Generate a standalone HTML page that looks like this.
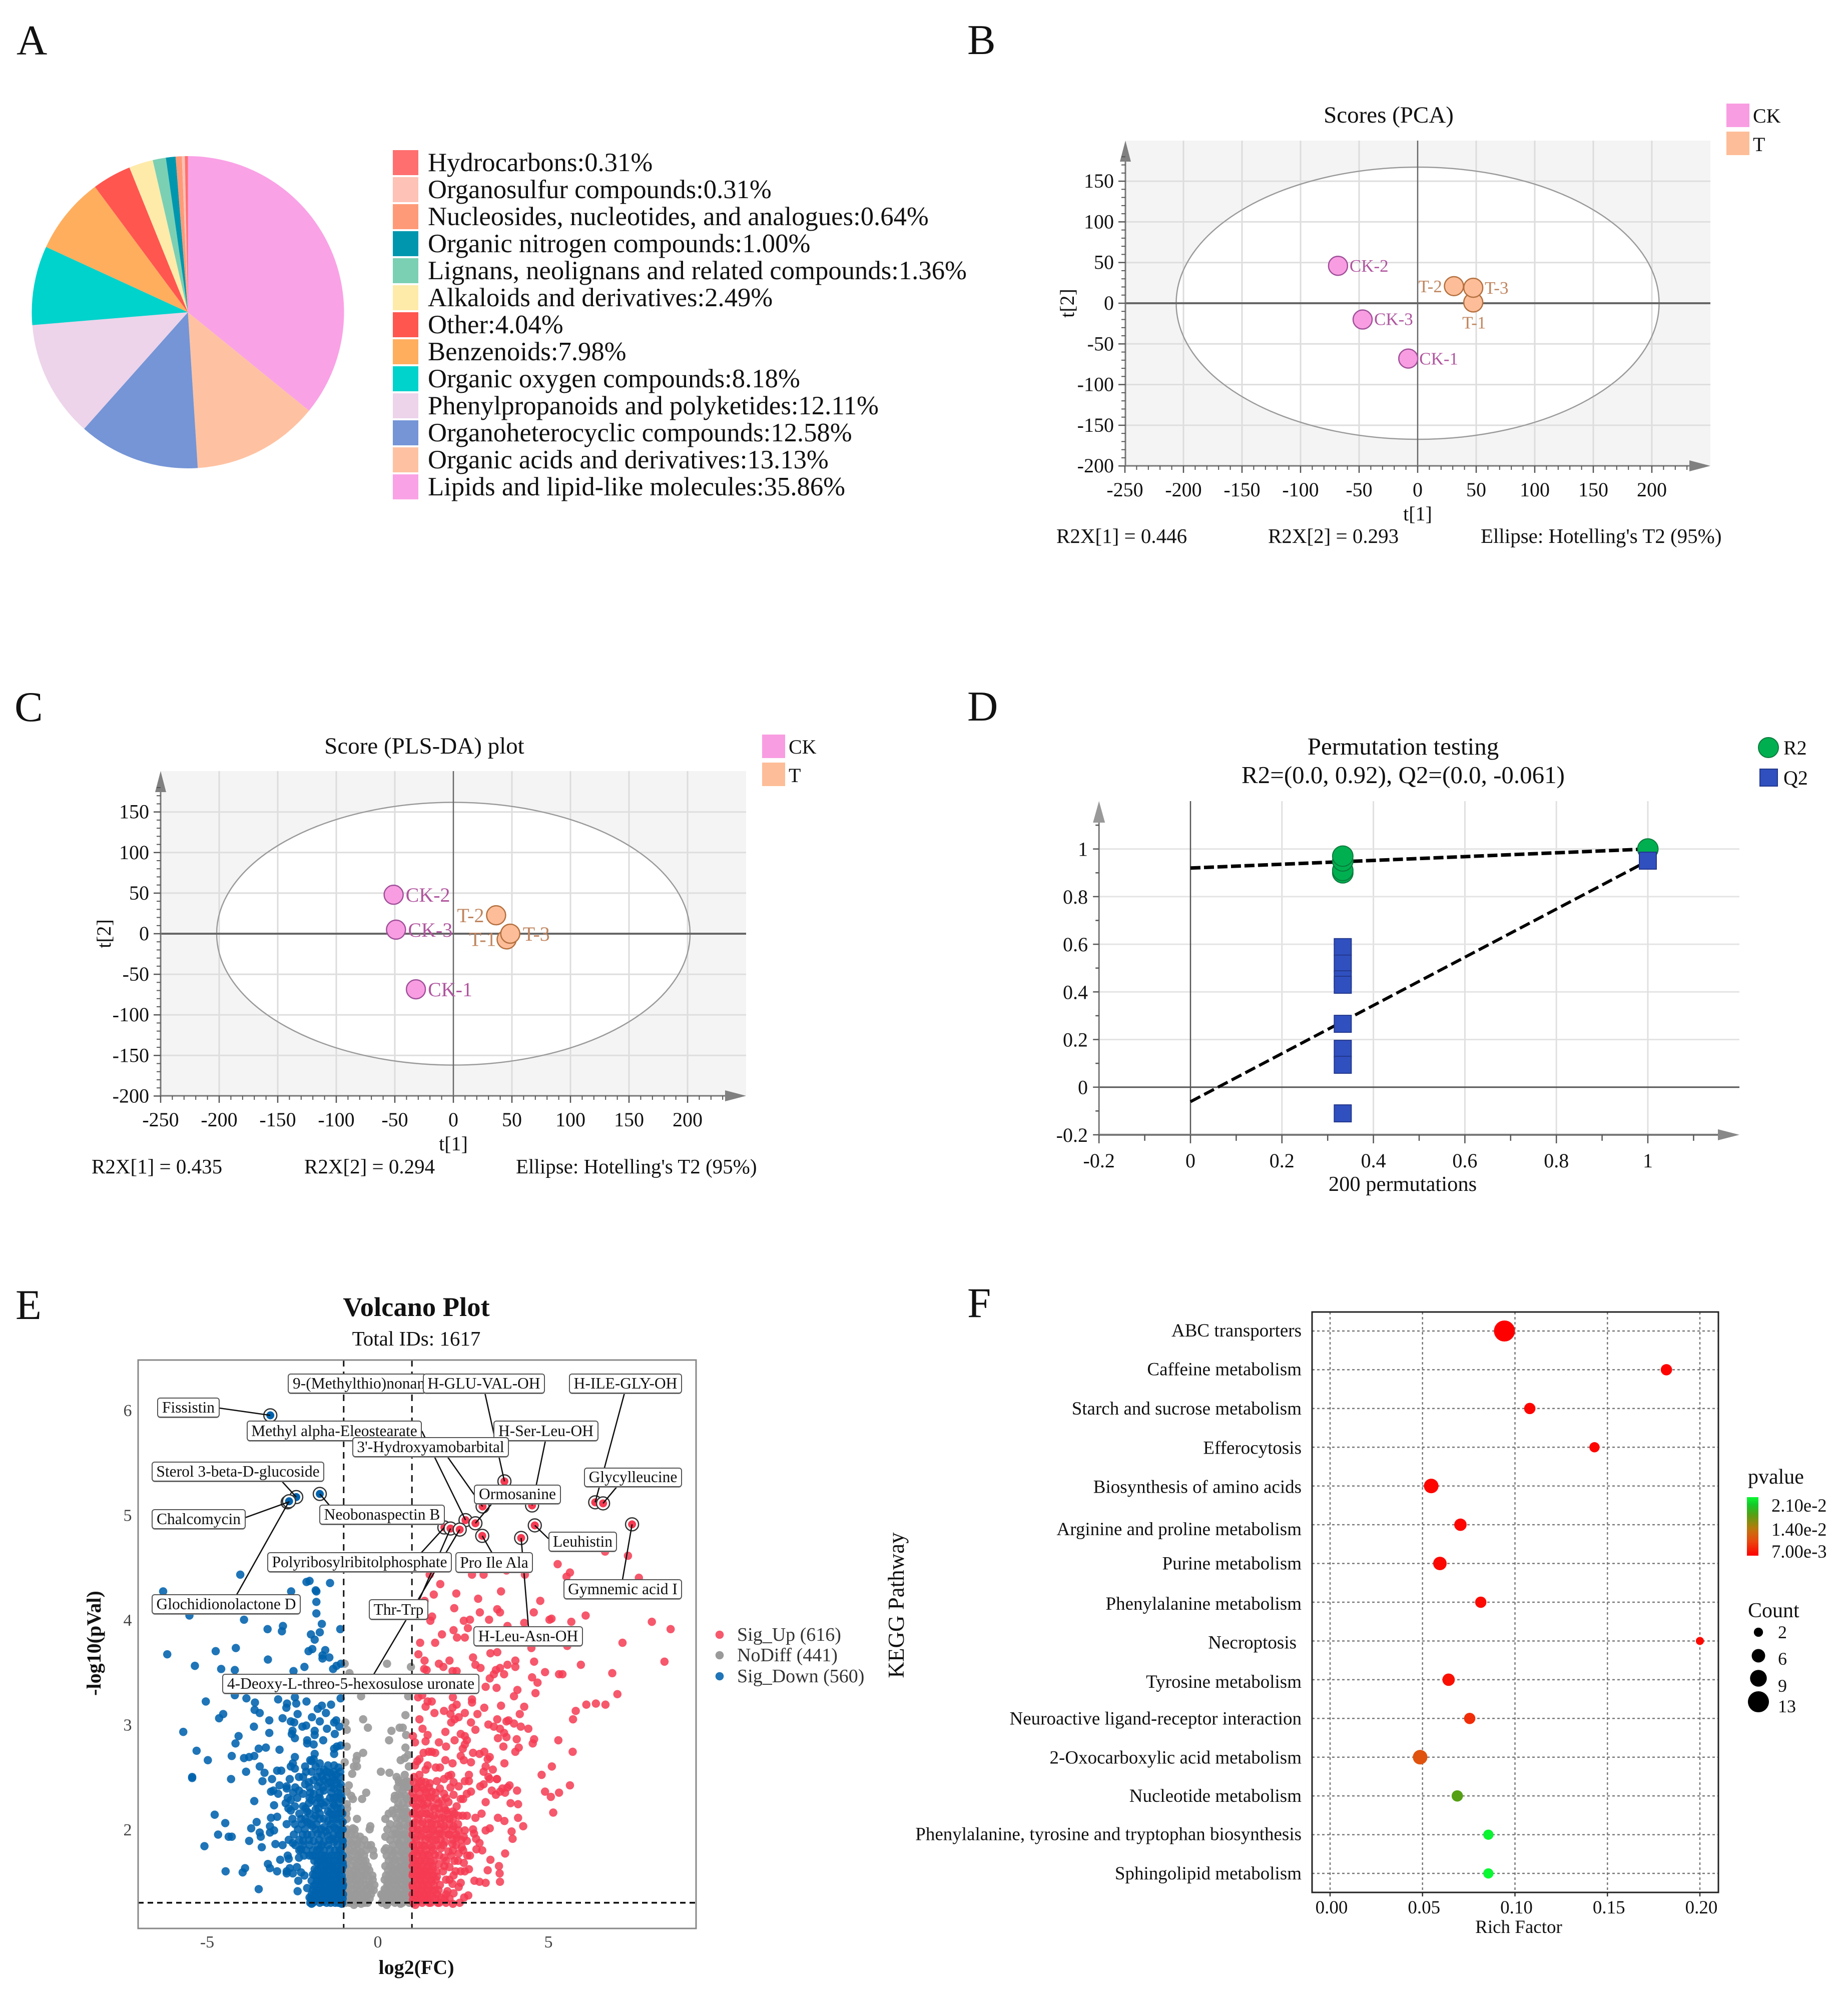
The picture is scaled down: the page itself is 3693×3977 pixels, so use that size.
<!DOCTYPE html>
<html lang="en">
<head>
<meta charset="utf-8">
<title>Metabolomics multi-panel figure</title>
<style>
html,body{margin:0;padding:0;background:#fff;}
svg{display:block;font-family:"Liberation Serif","Noto Serif CJK SC",serif;}
text{fill:#111;}
</style>
</head>
<body>
<svg id="fig" xmlns="http://www.w3.org/2000/svg" width="3693" height="3977" viewBox="0 0 3693 3977">
<rect width="3693" height="3977" fill="#fff"/>
<text x="33" y="109" font-size="85">A</text>
<text x="1933" y="108" font-size="85">B</text>
<text x="29" y="1441" font-size="85">C</text>
<text x="1933" y="1440" font-size="85">D</text>
<text x="31" y="2636" font-size="85">E</text>
<text x="1933" y="2632" font-size="85">F</text>
<g id="panelA"></g>
<g id="panelB"></g>
<g id="panelC"></g>
<g id="panelD"></g>
<g id="panelE"></g>
<g id="panelF"></g>
</svg>
<script>
/* ---------- Panel A data ---------- */
const pieCategories = ["Hydrocarbons","Organosulfur compounds","Nucleosides, nucleotides, and analogues","Organic nitrogen compounds","Lignans, neolignans and related compounds","Alkaloids and derivatives","Other","Benzenoids","Organic oxygen compounds","Phenylpropanoids and polyketides","Organoheterocyclic compounds","Organic acids and derivatives","Lipids and lipid-like molecules"];
const pieValues = [0.31,0.31,0.64,1.00,1.36,2.49,4.04,7.98,8.18,12.11,12.58,13.13,35.86];
const pieColors = ["#ff6f6f","#fec2b6","#ff9a78","#0097ae","#7bd0b4","#feebaa","#ff5650","#ffae5e","#00d2cc","#edd4ea","#7595d6","#fec2a2","#faa2e6"];

/* ---------- Panels B / C data ---------- */
const scoreXTicks = [-250,-200,-150,-100,-50,0,50,100,150,200];
const scoreYTicks = [150,100,50,0,-50,-100,-150,-200];
const pcaSamples = ["CK-1","CK-2","CK-3","T-1","T-2","T-3"];
const pcaT1 = [-8,-68,-47,47.5,31,47.5];
const pcaT2 = [-68,46,-20,1,21,19];
const plsSamples = ["CK-1","CK-2","CK-3","T-1","T-2","T-3"];
const plsT1 = [-32,-51,-49,45.5,36.5,48.6];
const plsT2 = [-68.5,48,5,-7,22.7,0];

/* ---------- Panel D data ---------- */
const permTicks = [-0.2,0,0.2,0.4,0.6,0.8,1];
const permR2X = [0.333,0.333,0.333,0.333,1];
const permR2Y = [0.90,0.91,0.95,0.97,1.0];
const permQ2X = [0.333,0.333,0.333,0.333,0.333,0.333,0.333,0.333,1];
const permQ2Y = [0.588,0.519,0.453,0.43,0.266,0.161,0.094,-0.11,0.951];
const r2FitLine = [0.92,1.0];
const q2FitLine = [-0.061,0.95];

/* ---------- Panel E data: [log2FC, -log10 p] ---------- */
const volcanoXTicks = [-5,0,5];
const volcanoYTicks = [2,3,4,5,6];
const sigDown = [[-4.03,4.43],[-2,4.37],[-2.09,4.36],[-1.4,4.35],[-6.29,4.27],[-2.54,4.27],[-1.8,4.27],[-1.82,4.28],[-1.8,4.17],[-1.8,4.06],[-5.52,4.04],[-3.92,4],[-1.64,3.96],[-2.78,3.94],[-3.23,3.91],[-2.81,3.89],[-1.1,3.91],[-1.7,3.88],[-1.96,3.86],[-1.85,3.81],
[-4.16,3.73],[-4.75,3.7],[-6.17,3.67],[-1.92,3.72],[-2.03,3.7],[-1.54,3.71],[-1.62,3.66],[-1.62,3.63],[-1.42,3.64],[-3.22,3.62],[-5.36,3.56],[-4.59,3.53],[-4.19,3.52],[-2.15,3.55],[-2.47,3.51],[-1.08,3.58],[-1.21,3.56],[-1.31,3.53],
[-4.19,3.28],[-5.04,3.22],[-3.85,3.25],[-3.6,3.21],[-2.92,3.24],[-2.43,3.26],[-2.09,3.22],[-2.39,3.2],[-2.66,3.2],[-2.68,3.16],[-1.09,3.25],[-1.37,3.19],[-1.64,3.18],[-1.76,3.15],[-1.52,3.11],[-3.61,3.14],[-4.53,3.1],[-4.65,3.06],[-3.46,3.11],[-2.35,3.1],[-1.93,3.07],[-2.79,3.06],[-3.18,3.04],[-2.55,3.03],[-2.45,3.02],[-1.7,3.03],[-1.22,3.04],[-1.28,3.02],[-1.13,2.98],[-3.63,2.98],[-2.21,2.98],[-2.1,2.99],[-5.7,2.93],[-3.18,2.92],[-2.5,2.94],[-2.52,2.91],[-1.49,2.96],[-1.85,2.94],[-1.26,2.91],[-4.08,2.89],[-2.43,2.87],[-1.85,2.9],[-1.6,2.85],[-2.07,2.85],[-4.17,2.82],[-2.07,2.82],[-1.88,2.81],[-1.09,2.8],[-1.28,2.77],[-1.2,2.79],[-3.28,2.78],[-3.49,2.77],[-2.88,2.76],[-5.31,2.75],[-1.85,2.72],[-1.28,2.72],[-4.28,2.7],[-3.92,2.68],[-3.77,2.69],[-3.62,2.7],[-4.98,2.66],[-2.43,2.69],[-1.88,2.67],[-1.98,2.66],
[-2.49,2.63],[-2.55,2.6],[-2.43,2.58],[-2.13,2.6],[-3.46,2.6],[-3.86,2.55],[-3.32,2.54],[-2.95,2.56],[-2.83,2.56],[-5.44,2.5],[-5.44,2.49],[-4.3,2.48],[-3.1,2.48],[-3.38,2.46],[-2.58,2.48],[-2.31,2.5],[-2.19,2.5],[-1.94,2.55],[-1.58,2.57],[-1.28,2.61],[-1.15,2.59],[-1.46,2.61],[-1.7,2.63],[-1.94,2.65],[-1.82,2.6],[-1.4,2.54],[-1.22,2.52],[-1.64,2.51],[-1.88,2.47],[-1.58,2.47],[-1.28,2.47],[-1.09,2.43],[-2.13,2.43],[-1.76,2.41],[-2.67,2.41],[-2.88,2.42],[-3.13,2.36],[-3.06,2.37],[-2.92,2.34],[-2.67,2.39],[-2.31,2.37],[-2.19,2.34],[-2.64,2.3],[-2.55,2.28],[-3.62,2.27],[-3.04,2.23],
[-1.88,2.34],[-1.58,2.37],[-1.28,2.39],[-1.09,2.34],[-1.7,2.3],[-1.4,2.3],[-1.09,2.29],[-1.94,2.28],[-1.58,2.23],[-1.28,2.23],[-1.09,2.2],[-2.19,2.22],[-2.43,2.22],[-2.55,2.18],[-1.82,2.19],[-1.46,2.17],[-1.15,2.15],[-2.07,2.17],[-2.95,2.12],[-3.13,2.11],[-4.78,2.14],[-3.55,2.07],[-4.47,2.06],[-2.67,2.05],[-2.43,2.05],[-2.25,2.1],[-2.07,2.07],[-1.7,2.1],[-1.46,2.08],[-1.22,2.1],[-1.03,2.07],[-1.92,2.03],[-1.58,2.02],[-1.28,2.02],[-1.09,1.99],
[-3.16,2.03],[-3.04,1.99],[-3.71,2.01],[-3.46,1.97],[-4.68,1.95],[-4.37,1.93],[-4.28,1.93],[-3.77,1.89],[-3.43,1.93],[-3.16,1.97],[-2.61,1.9],[-2.49,1.87],[-3,1.86],[-3.4,1.83],[-5.08,1.84],[-2.79,1.85],[-2.25,1.81],[-2.07,1.95],[-1.76,1.96],[-1.46,1.94],[-1.15,1.95],[-2.19,1.89],[-1.88,1.89],[-1.58,1.88],[-1.28,1.88],[-1.03,1.89],[-1.7,1.81],[-1.4,1.81],[-1.09,1.8],[-2.64,1.75],[-2.61,1.72],[-2.86,1.71],[-2.31,1.73],[-2,1.75],[-3.22,1.67],[-3.16,1.63],[-2.95,1.6],[-3.89,1.63],[-3.96,1.59],[-4.46,1.6],[-2.67,1.6],[-2.58,1.63],[-2.37,1.64],[-2.67,1.58],[-2.49,1.58],[-2.25,1.59],[-2.15,1.56],[-2.33,1.51],[-3.49,1.43],[-2.35,1.41],[-2.07,1.44],[-2,1.35],[-1.94,1.29],
[-1.82,1.74],[-1.64,1.75],[-1.46,1.74],[-1.28,1.75],[-1.09,1.73],[-1.76,1.68],[-1.55,1.69],[-1.37,1.68],[-1.18,1.69],[-1.03,1.68],[-1.85,1.62],[-1.67,1.63],[-1.49,1.62],[-1.31,1.63],[-1.12,1.62],[-1.9,1.57],[-1.73,1.56],[-1.58,1.57],[-1.4,1.56],[-1.22,1.57],[-1.06,1.56],[-1.94,1.51],[-1.79,1.51],[-1.64,1.5],[-1.46,1.51],[-1.28,1.5],[-1.09,1.51],[-1.88,1.46],[-1.7,1.45],[-1.55,1.46],[-1.37,1.45],[-1.18,1.46],[-1.03,1.45],[-1.82,1.4],[-1.64,1.41],[-1.46,1.4],[-1.28,1.41],[-1.09,1.4],[-1.94,1.38],[-1.73,1.36],[-1.55,1.35],[-1.37,1.36],[-1.18,1.35],[-1.03,1.34],[-1.85,1.32],[-1.6,1.31],[-1.25,1.3],[-1.06,1.29],[-1.46,1.43],[-1.32,1.47],[-1.52,1.53],[-1.16,1.6],[-1.43,1.65],[-1.61,1.71],[-1.76,1.85],[-1.34,1.91],[-1.52,1.98],[-1.82,2.13],[-1.34,2.14],[-1.52,2.26],[-1.22,2.31],[-1.46,2.44]];
const sigUp = [[1.52,4.43],[2.76,4.43],[3.1,4.43],[3.77,4.47],[4.31,4.43],[5.27,4.53],[5.63,4.45],[5.53,4.41],[6.66,4.65],[7.33,4.61],[7.65,4.4],[1.83,4.34],[2.3,4.25],[1.64,4.24],[3.61,4.27],[2.94,4.2],[4.76,4.18],[1.37,4.18],[2.24,4.11],[2.99,4.07],[3.5,4.1],[3.58,4.07],[4.57,4.07],[6.09,4.04],[1.59,4.03],[1.54,3.99],[2.52,3.99],[2.7,4],[3.26,4],[4.29,3.97],[5.09,4.01],[5.03,4],[5.67,3.98],[8.03,3.98],[2.64,3.92],[2.22,3.9],[3.8,3.94],[8.58,3.91],[1.88,3.86],[2.32,3.83],[2.55,3.83],
[1.24,3.78],[1.68,3.78],[7.17,3.78],[4.5,3.73],[5.55,3.75],[3.3,3.68],[3.5,3.69],[1.19,3.67],[2.79,3.64],[2.86,3.57],[1.37,3.61],[1.79,3.58],[2.1,3.61],[1.92,3.55],[3.01,3.54],[3.8,3.57],[4.03,3.61],[4.03,3.55],[4.58,3.6],[5.95,3.57],[8.4,3.6],[1.36,3.53],[1.43,3.52],[2.19,3.51],[2.31,3.51],[3.58,3.54],[3.46,3.52],[4.9,3.5],[5.31,3.48],[5.41,3.48],[6.87,3.49],[3.7,3.48],[3.4,3.48],[3.28,3.44],[4.52,3.45],[4.68,3.4],[3.16,3.36],[3.48,3.35],[4.09,3.33],[4.62,3.3],[7.02,3.29],[3.99,3.27],[2.2,3.26],[2.76,3.24],[1.18,3.26],[1.3,3.28],[1.46,3.22],[1.58,3.22],[1.4,3.17],[2.31,3.19],[2.76,3.21],[3.61,3.18],[4.29,3.17],[6.11,3.19],[6.39,3.2],[6.67,3.19],[5.8,3.13],[3.12,3.16],[2.19,3.16],[1.66,3.11],[1.94,3.13],[2.55,3.11],[2.13,3.1],[2.92,3.1],[4.16,3.1],[1.22,3.05],[2.37,3.07],[2.25,3.05],[2.15,3.02],[3.5,3.05],[3.83,3.04],[3.77,3.03],[2.73,3.02],[3.99,3.01],[3.24,3],[3.4,2.98],[3.58,2.96],[4.19,2.98],[4.41,2.96],[5.72,3.05],[1.31,2.96],[2.86,2.95],[1.98,2.93],[3.7,2.92],[3.52,2.87],[3.77,2.88],[4.07,2.86],[4.58,2.86],[4.54,2.82],[5.29,2.85],[5.71,2.74],[1.46,2.9],[1.03,2.89],[1.09,2.83],[1.4,2.84],[1.79,2.83],[2.43,2.91],[2.55,2.89],[2.25,2.85],[2.61,2.85],[2,2.79],[2.55,2.81],[2.49,2.77],[3.68,2.79],[4.13,2.78],[4.03,2.74],[2.79,2.73],[3.12,2.74],[2.98,2.72],[1.34,2.73],[1.49,2.74],[1.68,2.73],[1.58,2.74],[2.43,2.7],[3.28,2.69],[3.22,2.67],[1.22,2.67],[1.16,2.65],[1.98,2.66],[2.19,2.63],[2.52,2.66],[2.73,2.64],[3.71,2.63],[3.16,2.6],[5.1,2.6],[1.46,2.61],[1.7,2.59],[1.82,2.59],[1.09,2.61],[1.4,2.57],[3.37,2.57],[4.8,2.52],[3.1,2.55],[1.22,2.52],[2.07,2.51],[2.15,2.52],[2.67,2.52],[3.24,2.5],[3.49,2.48],[5.63,2.42],[4.9,2.36],[5.31,2.35],[5.07,2.31],[5.14,2.16],
[3.3,1.71],[3.55,1.65],[3.22,1.61],[3.57,1.58],[3.58,1.5],[3.16,1.49],[2.83,1.51],[2.98,1.5],[2.65,1.37],[2.53,1.35],[2.43,1.49],[2.37,1.45],[3.73,1.77],[3.92,1.98],[3.95,1.91],[4.26,2.03],[4.11,2.11],[3.52,2.11],[3.71,2.08],[3.28,2.01],[3.16,1.99],[3.04,2.15],[2.86,2.11],[2.61,2.13],[2.37,2.13],[2.49,2.13],[2.79,2],[2.82,1.96],[2.88,1.91],[2.98,1.87],[3.06,1.8],[2.89,1.81],[2.61,1.89],[2.52,1.93],[2.37,1.99],[2.55,1.99],[4.11,2.24],[3.89,2.25],[3.16,2.26],[2.73,2.36],[2.43,2.29],[2.5,2.29],[4.08,2.37],[3.86,2.42],[3.8,2.4],[3.65,2.39],[3.58,2.36],[3.34,2.37],[3.46,2.33],[3.73,2.35],[3,2.41],[3.1,2.43],[3.49,2.48],[3.28,2.48],[2.67,2.46],[2.55,2.46],[2.37,2.41],[2.13,2.4],[1.82,2.39],
[1.06,2.5],[1.28,2.46],[1.52,2.44],[1.73,2.46],[1.94,2.48],[2.22,2.45],[1.12,2.39],[1.37,2.38],[1.58,2.36],[1.94,2.34],[2.22,2.33],[2.61,2.34],[1.06,2.3],[1.25,2.29],[1.49,2.31],[1.7,2.29],[1.88,2.27],[2.07,2.26],[2.31,2.22],[1.12,2.22],[1.34,2.23],[1.58,2.22],[1.79,2.2],[2,2.18],[2.19,2.17],[1.03,2.15],[1.22,2.14],[1.43,2.15],[1.64,2.13],[1.88,2.11],[2.1,2.1],[1.09,2.07],[1.31,2.07],[1.52,2.06],[1.73,2.05],[1.94,2.03],[2.22,2.03],[1.03,2],[1.19,1.99],[1.4,2],[1.61,1.98],[1.82,1.96],[2.07,1.95],[2.31,1.92],[1.09,1.92],[1.28,1.93],[1.49,1.92],[1.7,1.9],[1.97,1.88],[2.19,1.86],[2.46,1.83],[1.03,1.85],[1.22,1.85],[1.37,1.84],[1.58,1.83],[1.85,1.82],[2.07,1.79],[2.37,1.77],[2.7,1.75],[1.09,1.78],[1.28,1.77],[1.46,1.76],[1.67,1.76],[1.94,1.73],[2.25,1.7],[2.52,1.68],[1.03,1.71],[1.19,1.7],[1.37,1.7],[1.55,1.69],[1.79,1.67],[2.1,1.64],[2.43,1.6],[2.67,1.62],[1.09,1.64],[1.25,1.63],[1.43,1.63],[1.61,1.62],[1.91,1.6],[2.22,1.56],[1.03,1.58],[1.19,1.57],[1.34,1.57],[1.52,1.56],[1.73,1.55],[2,1.52],[2.19,1.48],[1.09,1.51],[1.25,1.51],[1.4,1.5],[1.58,1.5],[1.82,1.47],[1.03,1.45],[1.19,1.44],[1.34,1.45],[1.49,1.44],[1.67,1.42],[2.04,1.41],[2.22,1.39],[1.09,1.38],[1.25,1.38],[1.43,1.37],[1.61,1.36],[1.85,1.35],[1.03,1.33],[1.19,1.32],[1.37,1.32],[1.55,1.3],[2,1.3],[2.2,1.29],[1.1,1.28],[1.76,1.3]];
const noDiff = [[-0.97,3.58],[0.27,3.58],[0.97,3.55],[-0.83,3.49],[-0.49,3.27],[0.89,3.27],[0.81,3.09],[-0.43,3.05],[-0.95,3.02],[-0.29,2.97],[-0.91,2.95],[0.64,2.97],[0.73,2.97],[0.4,2.94],[0.83,2.9],[0.33,2.85],[-0.91,2.79],[0.81,2.78],[-0.43,2.73],[-0.61,2.7],[0.89,2.71],[0.79,2.68],[0.67,2.66],[-0.97,2.64],[-0.63,2.66],[-0.61,2.6],[-0.7,2.6],[0.91,2.6],[0.09,2.55],[0.34,2.54],[-0.75,2.53],[0.79,2.52],[0.55,2.5],[0.61,2.47],[0.73,2.44],[-0.85,2.42],[0.85,2.46],[-0.91,2.36],[-0.34,2.35],[0.73,2.37],[-0.73,2.29],[-0.46,2.29],[0.61,2.33],[0.49,2.29],[0.85,2.29],[0.43,2.18],[0.67,2.18],[-0.91,2.24],[0.85,2.17],[0.22,2.1],[-0.61,2.1],[0.55,2.11],[0.79,2.11],[-0.91,2.1],[-0.22,2.03],[-0.24,2],[-0.73,2.01],[0.64,2.03],[0.88,2.03],[-0.91,1.97],[-0.67,1.95],[-0.52,1.93],[0.22,1.93],[0.52,1.96],[0.73,1.95],[0.91,1.93],[-0.79,1.87],[-0.61,1.86],[-0.3,1.85],[0.24,1.82],[0.61,1.87],[0.82,1.85],[-0.93,1.8],[-0.7,1.79],[-0.49,1.78],[0.46,1.78],[0.7,1.78],[0.91,1.79],[-0.85,1.72],[-0.61,1.72],[-0.43,1.7],[0.52,1.71],[0.76,1.71],[0.94,1.72],[-0.94,1.65],[-0.73,1.65],[-0.52,1.64],[-0.34,1.62],[0.43,1.63],[0.64,1.64],[0.85,1.65],[-0.82,1.58],[-0.61,1.58],[-0.4,1.56],[0.34,1.57],[0.55,1.58],[0.76,1.58],[0.94,1.58],[-0.94,1.52],[-0.73,1.52],[-0.52,1.51],[-0.25,1.5],[0.28,1.5],[0.46,1.51],[0.67,1.52],[0.88,1.52],[-0.85,1.45],[-0.64,1.45],[-0.43,1.44],[-0.2,1.43],[0.2,1.43],[0.37,1.44],[0.58,1.45],[0.79,1.45],[0.97,1.46],[-0.94,1.39],[-0.73,1.38],[-0.52,1.38],[-0.31,1.37],[0.13,1.37],[0.28,1.38],[0.49,1.38],[0.7,1.38],[0.91,1.39],[-0.85,1.33],[-0.64,1.32],[-0.43,1.32],[0.16,1.32],[0.37,1.32],[0.58,1.32],[0.79,1.32],[0.97,1.33],[-0.7,1.28],[-0.49,1.29],[0.26,1.28],[0.67,1.29]];
/* additional densely packed points, by -log10 p row: [p, [log2FC, ...]] */
const sigDownRows = [[1.3,[-1.98,-1.9,-1.7,-1.5,-1.38,-1.16,-1.04]],[1.34,[-1.95,-1.78,-1.62,-1.44,-1.3,-1.1]],[1.38,[-1.72,-1.58,-1.42,-1.25,-1.12,-1.02]],[1.42,[-1.9,-1.76,-1.6,-1.5,-1.34,-1.2,-1.07]],[1.47,[-1.84,-1.66,-1.52,-1.4,-1.26,-1.12,-1.02]],[1.52,[-1.72,-1.56,-1.36,-1.2,-1.04]],[1.56,[-1.84,-1.64,-1.48,-1.32,-1.14]],[1.61,[-1.78,-1.58,-1.42,-1.26,-1.06]],[1.65,[-1.68,-1.52,-1.34,-1.2,-1.02]],[1.7,[-1.86,-1.7,-1.46,-1.28,-1.1]],[1.75,[-2.16,-1.92,-1.72,-1.54,-1.36,-1.16,-1.03]],[1.8,[-2.3,-2.1,-1.9,-1.78,-1.58,-1.26,-1.12]],[1.85,[-2.42,-2.2,-2,-1.64,-1.46,-1.18,-1.03]],[1.9,[-2.3,-2.02,-1.72,-1.42,-1.24,-1.06]],[1.95,[-2.46,-2.2,-1.94,-1.64,-1.3,-1.12]],[2,[-2.34,-2.14,-1.82,-1.66,-1.42,-1.2,-1.03]],[2.05,[-2.22,-1.98,-1.8,-1.38,-1.16]],[2.1,[-2.5,-2.12,-1.88,-1.58,-1.32,-1.1]],[2.15,[-2.3,-2,-1.7,-1.4,-1.22,-1.04]],[2.2,[-2.62,-2.12,-1.74,-1.36,-1.18]],[2.25,[-2.7,-2.02,-1.8,-1.66,-1.3,-1.14]],[2.3,[-2.36,-2,-1.74,-1.3,-1.06]],[2.35,[-2.48,-1.98,-1.7,-1.36,-1.16]],[2.4,[-2.42,-2,-1.6,-1.36,-1.12]],[2.45,[-2.02,-1.7,-1.4,-1.2]],[2.5,[-1.78,-1.5,-1.32,-1.1]],[2.55,[-2.1,-1.7,-1.5,-1.3,-1.1]]];
const noDiffRows = [[1.3,[-0.94,-0.82,-0.6,-0.38,-0.3,0.12,0.3,0.5,0.72,0.92]],[1.34,[-0.96,-0.75,-0.55,-0.35,-0.24,0.16,0.26,0.46,0.68,0.86]],[1.38,[-0.84,-0.62,-0.42,-0.2,0.1,0.22,0.42,0.62,0.82,0.96]],[1.42,[-0.94,-0.74,-0.55,-0.33,-0.12,0.24,0.44,0.64,0.84]],[1.47,[-0.96,-0.8,-0.6,-0.36,-0.24,-0.1,0.28,0.5,0.72,0.92]],[1.52,[-0.84,-0.64,-0.43,-0.15,0.2,0.38,0.56,0.76,0.95]],[1.56,[-0.93,-0.72,-0.5,-0.3,-0.16,0.24,0.42,0.62,0.82,0.9]],[1.61,[-0.86,-0.68,-0.46,-0.25,0.3,0.5,0.7,0.88]],[1.65,[-0.95,-0.62,-0.4,-0.3,0.22,0.36,0.58,0.78,0.95]],[1.7,[-0.9,-0.72,-0.52,-0.36,0.32,0.44,0.66,0.86]],[1.75,[-0.95,-0.78,-0.55,-0.4,-0.12,0.26,0.4,0.6,0.8,0.93]],[1.8,[-0.82,-0.6,-0.35,-0.14,0.2,0.38,0.54,0.72,0.9]],[1.85,[-0.94,-0.72,-0.48,-0.2,0.44,0.64,0.84]],[1.9,[-0.85,-0.62,-0.4,0.36,0.56,0.7,0.88,0.96]],[1.95,[-0.95,-0.78,0.42,0.6,0.82]],[2,[-0.9,-0.68,0.28,0.48,0.68,0.9]],[2.05,[0.36,0.56,0.78,0.94]],[2.1,[0.66,0.86]],[2.15,[-0.93,0.32,0.46,0.72,0.92]],[2.2,[-0.9,0.56,0.78]],[2.25,[0.6,0.74,0.9]],[2.32,[-0.78,0.5,0.68,0.82,0.95]],[2.4,[0.58,0.76,0.88,0.94]],[2.45,[0.62,0.8,0.94]]];
const sigUpRows = [[1.3,[1.04,1.3,1.5,1.8,2.4]],[1.34,[1.12,1.28,1.46,1.7,1.95,2.1]],[1.38,[1.02,1.18,1.36,1.52,1.74,2]],[1.42,[1.1,1.28,1.44,1.58,1.78]],[1.47,[1.02,1.16,1.3,1.46,1.64]],[1.52,[1.1,1.24,1.38,1.56,1.7,2.1]],[1.56,[1.02,1.16,1.3,1.44,1.62]],[1.6,[1.08,1.22,1.38,1.52,1.72,2.28,2.55]],[1.65,[1.02,1.16,1.3,1.46,1.6,1.95]],[1.7,[1.1,1.24,1.42,1.64,2,2.35]],[1.75,[1.02,1.16,1.32,1.5,1.8,2.15,2.62]],[1.8,[1.1,1.22,1.42,1.62,2.2,2.5]],[1.85,[1.04,1.3,1.52,1.76,1.92,2.3]],[1.9,[1.12,1.4,1.6,1.84,2.2,2.45]],[1.95,[1.02,1.26,1.5,1.72,1.9,2.1,2.3]],[2,[1.16,1.42,1.62,1.8,2,2.2]],[2.05,[1.04,1.3,1.58,1.85,2.1,2.35]],[2.1,[1.18,1.48,1.7,1.95,2.2]],[2.15,[1.08,1.3,1.52,1.8,2.05,2.25]],[2.2,[1.16,1.38,1.66,1.95]],[2.25,[1.04,1.28,1.46,1.78]],[2.3,[1.12,1.34,1.56,2]],[2.35,[1.02,1.22,1.42,1.7]],[2.4,[1.16,1.3,1.5]],[2.45,[1.06,1.22,1.4]]];
/* labelled metabolites */
const hitNames = ["Fissistin","Sterol 3-beta-D-glucoside","Chalcomycin","Glochidionolactone D","Neobonaspectin B","H-GLU-VAL-OH","3'-Hydroxyamobarbital","H-Ser-Leu-OH","H-ILE-GLY-OH","Glycylleucine","Methyl alpha-Eleostearate","Ormosanine","Polyribosylribitolphosphate","Thr-Trp","4-Deoxy-L-threo-5-hexosulose uronate","Pro Ile Ala","H-Leu-Asn-OH","Leuhistin","Gymnemic acid I"];
const hitFC = [-3.15,-2.39,-2.64,-2.6,-1.7,3.71,3.07,4.52,6.37,6.6,2.57,2.86,1.95,2.13,2.4,3.06,4.2,4.6,7.45];
const hitP = [5.95,5.17,5.12,5.13,5.2,5.32,5.08,5.09,5.12,5.11,4.95,4.92,4.88,4.87,4.86,4.8,4.78,4.9,4.91];

/* ---------- Panel F data ---------- */
const pathways = ["ABC transporters","Caffeine metabolism","Starch and sucrose metabolism","Efferocytosis","Biosynthesis of amino acids","Arginine and proline metabolism","Purine metabolism","Phenylalanine metabolism","Necroptosis","Tyrosine metabolism","Neuroactive ligand-receptor interaction","2-Oxocarboxylic acid metabolism","Nucleotide metabolism","Phenylalanine, tyrosine and tryptophan biosynthesis","Sphingolipid metabolism"];
const richFactor = [0.0943,0.1819,0.108,0.143,0.0547,0.0705,0.0594,0.0815,0.2,0.0641,0.0755,0.0487,0.0688,0.0856,0.0856];
const geneCount = [13,4,4,3,7,5,6,4,1,5,4,7,4,3,3];
const pathwayP = [0.007,0.0071,0.0072,0.0072,0.0073,0.0073,0.0074,0.0075,0.0075,0.0078,0.0092,0.0112,0.0168,0.0208,0.021];
const richTicks = [0,0.05,0.1,0.15,0.2];
const countLegend = [2,6,9,13];
const pvalueLegend = ["2.10e-2","1.40e-2","7.00e-3"];

/* ---------- helpers ---------- */
const NS = "http://www.w3.org/2000/svg";
function mk(parent, tag, attrs, txt){
  const e = document.createElementNS(NS, tag);
  for (const k in attrs) e.setAttribute(k, attrs[k]);
  if (txt !== undefined) e.textContent = txt;
  parent.appendChild(e);
  return e;
}
function ln(p,x1,y1,x2,y2,stroke,w,extra){
  return mk(p,"line",Object.assign({x1,y1,x2,y2,stroke,"stroke-width":w},extra||{}));
}
function tx(p,x,y,size,s,extra){
  return mk(p,"text",Object.assign({x,y,"font-size":size},extra||{}),s);
}
function tag(e,name){
  
  
  return e;
}
function expandRows(rows){
  const out = [];
  rows.forEach(r => r[1].forEach(fc => out.push([fc, r[0]])));
  return out;
}

/* ---------- Panel A ---------- */
(function(){
  const g = document.getElementById("panelA");
  const cx = 375.5, cy = 624, r = 312;
  const total = pieValues.reduce((a,b)=>a+b,0);
  let acc = 0;
  for (let i = pieValues.length-1; i >= 0; i--){
    const a0 = acc/total*2*Math.PI;
    acc += pieValues[i];
    const a1 = acc/total*2*Math.PI;
    const large = (a1-a0) > Math.PI ? 1 : 0;
    const d = `M${cx},${cy}L${cx+r*Math.sin(a0)},${cy-r*Math.cos(a0)}A${r},${r} 0 ${large} 1 ${cx+r*Math.sin(a1)},${cy-r*Math.cos(a1)}Z`;
    const s = mk(g,"path",{d,fill:pieColors[i]});
    
    
  }
  pieCategories.forEach((c,i)=>{
    const y = 300 + i*54;
    const sw = mk(g,"rect",{x:785,y,width:51,height:50,fill:pieColors[i]});
    
    
    const t = tx(g,855,y+42,52.7,c+":"+pieValues[i].toFixed(2)+"%");
    
    
  });
})();

/* ---------- Panels B, C ---------- */
function scorePlot(g,c,samples,t1,t2){
  const X = v => c.x0 + 2.34*v, Y = v => c.y0 - c.sy*v;
  tag(mk(g,"rect",{x:c.l,y:c.t,width:c.r-c.l,height:c.b-c.t,fill:"#f4f4f4"}),"plot-background");
  tag(mk(g,"ellipse",{cx:c.x0,cy:c.y0,rx:c.rx,ry:c.ry,fill:"#fff"}),"ellipse-fill");
  scoreXTicks.forEach(v=>{
    if(v!==0 && v!==-250) tag(ln(g,X(v),c.t,X(v),c.b,"#dcdcdc",3),"x-gridline");
  });
  scoreYTicks.forEach(v=>{
    if(v!==0 && v!==-200) tag(ln(g,c.l,Y(v),c.r,Y(v),"#dedede",3),"y-gridline");
  });
  tag(mk(g,"ellipse",{cx:c.x0,cy:c.y0,rx:c.rx,ry:c.ry,fill:"none",stroke:"#9a9a9a","stroke-width":2.5}),"hotelling-ellipse");
  tag(ln(g,c.l,Y(0),c.r,Y(0),"#666",4),"zero-line-horizontal");
  tag(ln(g,X(0),c.t,X(0),c.b,"#666",2.5),"zero-line-vertical");
  // axes
  tag(ln(g,c.l,c.t+35,c.l,c.b,"#777",3),"y-axis");
  tag(ln(g,c.l,c.b,c.r-35,c.b,"#777",3),"x-axis");
  tag(mk(g,"path",{d:`M${c.l-11},${c.t+42}L${c.l},${c.t}L${c.l+11},${c.t+42}Z`,fill:"#808080"}),"y-axis-arrow");
  tag(mk(g,"path",{d:`M${c.r-42},${c.b-11}L${c.r},${c.b}L${c.r-42},${c.b+11}Z`,fill:"#808080"}),"x-axis-arrow");
  for(let v=-250;v<=230;v+=10){
    const major = v%50===0;
    tag(ln(g,X(v),c.b,X(v),c.b+(major?14:8),"#555",major?2.5:2),"x-tick");
  }
  for(let v=-200;v<=180;v+=10){
    const major = v%50===0;
    tag(ln(g,c.l,Y(v),c.l-(major?14:8),Y(v),"#555",major?2.5:2),"y-tick");
  }
  scoreXTicks.forEach(v=>{
    const t = tx(g,X(v),c.b+61,40,String(v),{"text-anchor":"middle"});
    
    
  });
  scoreYTicks.forEach(v=>{
    const t = tx(g,c.l-23,Y(v)+13,40,String(v),{"text-anchor":"end"});
    
    
  });
  tag(tx(g,X(0),c.b+109,40,"t[1]",{"text-anchor":"middle"}),"x-axis-title");
  tag(tx(g,0,0,40,"t[2]",{"text-anchor":"middle",transform:`translate(${c.yTitleX},${Y(0)}) rotate(-90)`}),"y-axis-title");
  samples.forEach((s,i)=>{
    const ck = s.startsWith("CK");
    const pt = mk(g,"circle",{cx:X(t1[i]),cy:Y(t2[i]),r:19,fill:ck?"#f99de2":"#fdbd98",stroke:ck?"#a0509a":"#b4703f","stroke-width":2.5});
    
    
    const o = c.labels[s];
    const lab = tx(g,X(t1[i])+o[0],Y(t2[i])+o[1],c.labelSize,s,{style:"fill:"+(ck?"#b0559f":"#c0855f")});
    
    
  });
  tag(tx(g,c.titleX,c.titleY,47,c.title,{"text-anchor":"middle"}),"chart-title");
  tag(mk(g,"rect",{x:c.legX,y:c.legY,width:46,height:47,fill:"#f99de2"}),"legend-swatch-ck");
  tag(mk(g,"rect",{x:c.legX,y:c.legY+56,width:46,height:47,fill:"#fdbd98"}),"legend-swatch-t");
  tag(tx(g,c.legX+53,c.legY+38,40,"CK"),"legend-label-ck");
  tag(tx(g,c.legX+53,c.legY+95,40,"T"),"legend-label-t");
  tag(tx(g,c.noteX[0],c.noteY,41,c.notes[0]),"r2x-1-note");
  tag(tx(g,c.noteX[1],c.noteY,41,c.notes[1]),"r2x-2-note");
  tag(tx(g,c.noteX[2],c.noteY,41,"Ellipse: Hotelling's T2 (95%)"),"ellipse-note");
}
scorePlot(document.getElementById("panelB"),{
  l:2249,r:3418,t:281,b:931,x0:2833,y0:606,sy:1.626,rx:482.5,ry:272,yTitleX:2146,labelSize:35,
  labels:{"CK-1":[22,12],"CK-2":[23,12],"CK-3":[23,11],"T-1":[-22,52],"T-2":[-71,12],"T-3":[23,12]},
  title:"Scores (PCA)",titleX:2775,titleY:245,legX:3450,legY:207,
  noteX:[2111,2534,2959],noteY:1085,notes:["R2X[1] = 0.446","R2X[2] = 0.293"]
},pcaSamples,pcaT1,pcaT2);
scorePlot(document.getElementById("panelC"),{
  l:321,r:1491,t:1541,b:2190,x0:906,y0:1866,sy:1.622,rx:473,ry:262.5,yTitleX:221,labelSize:40,
  labels:{"CK-1":[24,14],"CK-2":[24,14],"CK-3":[24,14],"T-1":[-75,13],"T-2":[-78,14],"T-3":[25,14]},
  title:"Score (PLS-DA) plot",titleX:848,titleY:1506,legX:1523,legY:1468,
  noteX:[183,608,1031],noteY:2345,notes:["R2X[1] = 0.435","R2X[2] = 0.294"]
},plsSamples,plsT1,plsT2);

/* ---------- Panel D ---------- */
(function(){
  const g = document.getElementById("panelD");
  const X = v => 2379 + 914*v, Y = v => 2172.7 - 476*v;
  const L = X(-0.2), B = Y(-0.2), R = 3476, T = 1601;
  permTicks.forEach(v=>{
    if(v>0){
      tag(ln(g,X(v),T,X(v),B,"#e0e0e0",3),"x-gridline");
      tag(ln(g,L,Y(v),R,Y(v),"#e4e4e4",3),"y-gridline");
    }
  });
  tag(ln(g,X(0),T,X(0),B,"#555",2.5),"zero-line-vertical");
  tag(ln(g,L,Y(0),R,Y(0),"#555",3),"zero-line-horizontal");
  tag(ln(g,L,T+43,L,B,"#777",3),"y-axis");
  tag(ln(g,L,B,R-40,B,"#777",4),"x-axis");
  tag(mk(g,"path",{d:`M${L-12},${T+43}L${L},${T}L${L+12},${T+43}Z`,fill:"#999"}),"y-axis-arrow");
  tag(mk(g,"path",{d:`M${R-43},${B-11}L${R},${B}L${R-43},${B+11}Z`,fill:"#888"}),"x-axis-arrow");
  for(let i=-2;i<=11;i++){
    const v=i/10, major=i%2===0;
    tag(ln(g,X(v),B,X(v),B+(major?17:12),"#555",2.5),"x-tick");
    if(i<=11) tag(ln(g,L,Y(v),L-(major?12:7),Y(v),"#555",2.5),"y-tick");
  }
  permTicks.forEach(v=>{
    const xl = tx(g,X(v),2333,40,String(v),{"text-anchor":"middle"});
    
    
    const yl = tx(g,2174,Y(v)+14,40,String(v),{"text-anchor":"end"});
    
    
  });
  tag(ln(g,X(0),Y(r2FitLine[0]),X(1),Y(r2FitLine[1]),"#000",7,{"stroke-dasharray":"20 7"}),"r2-fit-line");
  tag(ln(g,X(0),Y(q2FitLine[0]),X(1),Y(q2FitLine[1]),"#000",6,{"stroke-dasharray":"22 9"}),"q2-fit-line");
  permR2X.forEach((x,i)=>{
    const c = mk(g,"circle",{cx:X(x),cy:Y(permR2Y[i]),r:20.5,fill:"#00b050",stroke:"#0a7a3c","stroke-width":2});
    
    
  });
  permQ2X.forEach((x,i)=>{
    const s = mk(g,"rect",{x:X(x)-17,y:Y(permQ2Y[i])-17,width:34,height:34,fill:"#3050c0",stroke:"#23388c","stroke-width":2});
    
    
  });
  tag(tx(g,2804,1508,49,"Permutation testing",{"text-anchor":"middle"}),"chart-title");
  tag(tx(g,2804,1565,49,"R2=(0.0, 0.92), Q2=(0.0, -0.061)",{"text-anchor":"middle"}),"chart-subtitle");
  tag(tx(g,2803,2380,42.5,"200 permutations",{"text-anchor":"middle"}),"x-axis-title");
  tag(mk(g,"circle",{cx:3534,cy:1494,r:20,fill:"#00b050",stroke:"#0a7a3c","stroke-width":2}),"legend-marker-r2");
  tag(mk(g,"rect",{x:3517,y:1537,width:35,height:34,fill:"#3050c0",stroke:"#23388c","stroke-width":2}),"legend-marker-q2");
  tag(tx(g,3564,1508,40,"R2"),"legend-label-r2");
  tag(tx(g,3564,1568,40,"Q2"),"legend-label-q2");
})();

/* ---------- Panel E ---------- */
(function(){
  const g = document.getElementById("panelE");
  const X = v => 755 + 68.2*v, Y = v => 3656 - 209.5*(v-2);
  const L=276,R=1391,T=2718,B=3854;
  tag(mk(g,"rect",{x:L,y:T,width:R-L,height:B-T,fill:"#fff"}),"plot-background");
  noDiff.concat(expandRows(noDiffRows)).forEach(p=>{
    const c = mk(g,"circle",{cx:X(p[0]),cy:Y(p[1]),r:8.3,fill:"#9a9a9a","fill-opacity":0.92});
    
    
  });
  sigDown.concat(expandRows(sigDownRows)).forEach(p=>{
    const c = mk(g,"circle",{cx:X(p[0]),cy:Y(p[1]),r:8.3,fill:"#0062ad","fill-opacity":0.88});
    
    
  });
  sigUp.concat(expandRows(sigUpRows)).forEach(p=>{
    const c = mk(g,"circle",{cx:X(p[0]),cy:Y(p[1]),r:8.3,fill:"#f53b52","fill-opacity":0.85});
    
    
  });
  tag(ln(g,X(-1),T,X(-1),B,"#111",3,{"stroke-dasharray":"13 10"}),"fold-change-threshold-low");
  tag(ln(g,X(1),T,X(1),B,"#111",3,{"stroke-dasharray":"13 10"}),"fold-change-threshold-high");
  tag(ln(g,L,Y(1.3),R,Y(1.3),"#111",3.5,{"stroke-dasharray":"11 8"}),"p-value-threshold");
  tag(mk(g,"rect",{x:L,y:T,width:R-L,height:B-T,fill:"none",stroke:"#888","stroke-width":3}),"plot-frame");
  hitFC.forEach((fc,i)=>{
    const up = fc>0;
    const ring = mk(g,"circle",{cx:X(fc),cy:Y(hitP[i]),r:13,fill:"#fff",stroke:"#333","stroke-width":2.5});
    
    
    const dot = mk(g,"circle",{cx:X(fc),cy:Y(hitP[i]),r:8,fill:up?"#f53b52":"#0062ad"});
    
    
  });
  function connector(i,x,y){
    const l = ln(g,x,y,X(hitFC[i]),Y(hitP[i]),"#111",2.6);
    
    
  }
  connector(0,438,2814);connector(1,563,2960);connector(2,490,3033);connector(3,473,3187);connector(4,658,3008);
  connector(5,969,2784);connector(6,894,2911);connector(7,1090,2879);connector(8,1248,2784);connector(9,1233,2971);
  connector(10,843,2860);connector(11,983,3005);connector(12,842,3103);connector(13,838,3197);connector(14,747,3346);
  connector(15,983,3103);connector(16,1056,3251);connector(17,1096,3075);connector(18,1244,3157);
  function box(s,x1,x2,y1,y2,left){
    const h = mk(g,"rect",{x:x1,y:y1+2,width:x2-x1,height:y2-y1,rx:5,fill:"#888"});
    
    
    const r = mk(g,"rect",{x:x1,y:y1,width:x2-x1,height:y2-y1,rx:5,fill:"#fff",stroke:"#555","stroke-width":2});
    
    
    const t = left ? tx(g,x1+9,y2-9,31.5,s) : tx(g,(x1+x2)/2,y2-9,31.5,s,{"text-anchor":"middle"});
    
    
  }
  box("9-(Methylthio)nonan",576,851,2746,2784,true);
  box(hitNames[5],846,1088,2746,2784);
  box(hitNames[8],1138,1362,2746,2784);
  box(hitNames[0],315,438,2794,2832);
  box(hitNames[10],494,842,2840,2879);
  box(hitNames[7],987,1195,2840,2879);
  box(hitNames[6],705,1016,2873,2911);
  box(hitNames[1],304,647,2922,2960);
  box(hitNames[9],1168,1362,2934,2971);
  box(hitNames[11],948,1120,2968,3005);
  box(hitNames[4],639,888,3008,3046);
  box(hitNames[2],304,490,3017,3055);
  box(hitNames[17],1097,1232,3062,3100);
  box(hitNames[12],535,902,3103,3141);
  box(hitNames[15],911,1064,3103,3142);
  box(hitNames[18],1127,1362,3157,3195);
  box(hitNames[3],304,600,3187,3225);
  box(hitNames[13],738,855,3197,3236);
  box(hitNames[16],947,1164,3251,3289);
  box(hitNames[14],445,957,3346,3384);
  volcanoXTicks.forEach(v=>{
    const t = tx(g,X(v),3892,34,String(v),{"text-anchor":"middle",style:"fill:#444"});
    
    
  });
  volcanoYTicks.forEach(v=>{
    const t = tx(g,255,Y(v)+12,34,String(v),{"text-anchor":"middle",style:"fill:#444"});
    
    
  });
  tag(tx(g,832,2630,54.5,"Volcano Plot",{"text-anchor":"middle","font-weight":"bold"}),"chart-title");
  tag(tx(g,832,2689,41,"Total IDs: 1617",{"text-anchor":"middle"}),"chart-subtitle");
  tag(tx(g,832,3945,40,"log2(FC)",{"text-anchor":"middle","font-weight":"bold"}),"x-axis-title");
  tag(tx(g,0,0,40,"-log10(pVal)",{"text-anchor":"middle","font-weight":"bold",transform:"translate(201,3284) rotate(-90)"}),"y-axis-title");
  tag(mk(g,"circle",{cx:1438,cy:3267,r:8.3,fill:"#f53b52","fill-opacity":0.85}),"legend-marker-sig-up");
  tag(mk(g,"circle",{cx:1438,cy:3308,r:8.3,fill:"#9a9a9a"}),"legend-marker-nodiff");
  tag(mk(g,"circle",{cx:1438,cy:3350,r:8.3,fill:"#0062ad","fill-opacity":0.88}),"legend-marker-sig-down");
  tag(tx(g,1473,3279,38,"Sig_Up (616)",{style:"fill:#333"}),"legend-label-sig-up");
  tag(tx(g,1473,3320,38,"NoDiff (441)",{style:"fill:#333"}),"legend-label-nodiff");
  tag(tx(g,1473,3362,38,"Sig_Down (560)",{style:"fill:#333"}),"legend-label-sig-down");
})();

/* ---------- Panel F ---------- */
(function(){
  const g = document.getElementById("panelF");
  const X = v => 2658 + 3695*v;
  const Y = i => 2660 + 77.43*i;
  const R = c => 7 + 1.08*c;
  const stops = [[0,[255,0,0]],[0.25,[232,72,15]],[0.4,[205,105,15]],[0.5,[170,128,10]],[0.7,[85,160,20]],[0.87,[20,200,40]],[1,[10,248,50]]];
  function pColor(p){
    const t = Math.max(0,Math.min(1,(p-0.007)/0.014));
    for(let i=1;i<stops.length;i++){
      if(t<=stops[i][0]){
        const a=stops[i-1],b=stops[i],f=(t-a[0])/(b[0]-a[0]);
        return "rgb("+a[1].map((v,k)=>Math.round(v+(b[1][k]-v)*f)).join(",")+")";
      }
    }
    return "rgb(10,248,50)";
  }
  const dash = {"stroke-dasharray":"5 5"};
  richTicks.forEach(v=>{
    tag(ln(g,X(v),2622,X(v),3782,"#777",2.5,dash),"x-gridline");
    tag(ln(g,X(v),3782,X(v),3790,"#333",2.5),"x-tick");
    const t = tx(g,X(v)+3,3824,37,v.toFixed(2),{"text-anchor":"middle"});
    
    
  });
  const labelShift = [0,0,1,2,3,10,1,4,4,5,1,2,1,0,1];
  pathways.forEach((p,i)=>{
    tag(ln(g,2622,Y(i),3434,Y(i),"#777",2.5,dash),"y-gridline");
    const right = p==="Necroptosis" ? 2591 : 2601;
    const t = tx(g,right,Y(i)+labelShift[i]+11,37,p,{"text-anchor":"end"});
    
    
  });
  tag(mk(g,"rect",{x:2622,y:2622,width:812,height:1160,fill:"none",stroke:"#222","stroke-width":3}),"plot-frame");
  pathways.forEach((p,i)=>{
    const c = mk(g,"circle",{cx:X(richFactor[i]),cy:Y(i),r:R(geneCount[i]),fill:pColor(pathwayP[i])});
    
    
  });
  tag(tx(g,3035,3863,37,"Rich Factor",{"text-anchor":"middle"}),"x-axis-title");
  tag(tx(g,0,0,45,"KEGG Pathway",{"text-anchor":"middle",transform:"translate(1806,3208) rotate(-90)"}),"y-axis-title");
  tag(tx(g,3493,2965,42,"pvalue"),"colorbar-title");
  const defs = mk(g,"defs",{});
  const lg = mk(defs,"linearGradient",{id:"pbar",x1:0,y1:1,x2:0,y2:0});
  stops.forEach(s=>mk(lg,"stop",{offset:s[0],"stop-color":"rgb("+s[1].join(",")+")"}));
  tag(mk(g,"rect",{x:3491,y:2992,width:23,height:117,fill:"url(#pbar)"}),"pvalue-colorbar");
  const barY = [3021,3069,3113];
  pvalueLegend.forEach((s,i)=>{
    const t = tx(g,3540,barY[i],36.5,s);
    
    
  });
  tag(tx(g,3493,3232,42,"Count"),"size-legend-title");
  const dotY = [3262,3309,3354,3401], labY = [3274,3327,3381,3422];
  countLegend.forEach((c,i)=>{
    const d = mk(g,"circle",{cx:3514,cy:dotY[i],r:R(c),fill:"#000"});
    
    
    const t = tx(g,3553,labY[i],36,String(c));
    
    
  });
})();
</script>
</body>
</html>
